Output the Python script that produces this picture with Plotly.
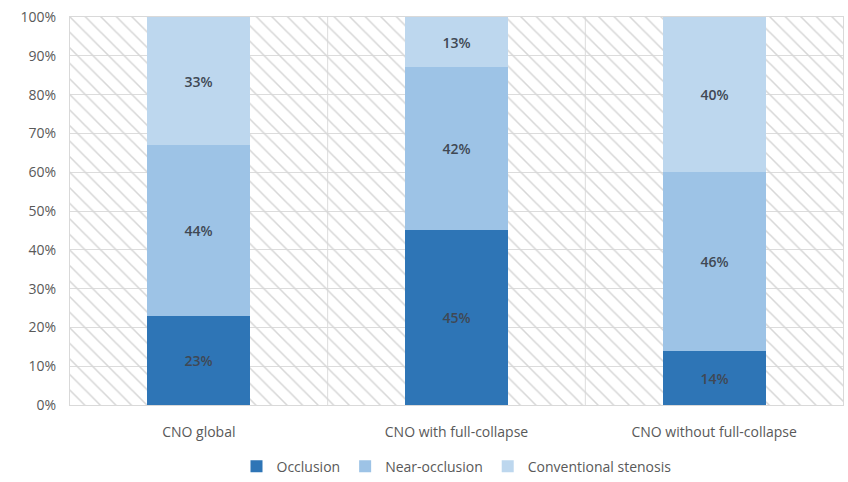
import plotly.graph_objects as go

categories = ["CNO global", "CNO with full-collapse", "CNO without full-collapse"]
occlusion = [23, 45, 14]
near_occlusion = [44, 42, 46]
conventional = [33, 13, 40]
series_names = ["Occlusion", "Near-occlusion", "Conventional stenosis"]
colors = ["#2E75B6", "#9DC3E6", "#BDD7EE"]
ytick_vals = list(range(0, 101, 10))
ytick_text = [f"{v}%" for v in ytick_vals]

fig = go.Figure()

# hatched background on base axes
fig.add_trace(go.Bar(
    x=categories, y=[100] * len(categories), width=1,
    marker=dict(color="rgba(0,0,0,0)", line=dict(width=0),
                pattern=dict(shape="\\", fgcolor="#d6d6d6", size=11, solidity=0.14, fillmode="replace")),
    showlegend=False, hoverinfo="skip", xaxis="x", yaxis="y",
))

for name, vals, col in zip(series_names, [occlusion, near_occlusion, conventional], colors):
    fig.add_trace(go.Bar(
        x=categories, y=vals, name=name, width=0.4,
        marker=dict(color=col, line=dict(width=0)),
        texttemplate="%{y}%", textposition="inside", insidetextanchor="middle",
        textfont=dict(color="#404854", size=14, family="Open Sans", weight=600),
        xaxis="x2", yaxis="y2",
    ))

shapes = []
for xb in [0.5, 1.5]:
    shapes.append(dict(type="line", xref="x", yref="y", x0=xb, x1=xb, y0=0, y1=100,
                       line=dict(color="#dcdcdc", width=1), layer="below"))

fig.update_layout(
    width=848, height=482,
    margin=dict(l=70, r=5, t=17, b=77, autoexpand=False),
    paper_bgcolor="white", plot_bgcolor="white",
    barmode="stack", bargap=0,
    font=dict(family="Open Sans", color="#595959", size=14),
    xaxis=dict(range=[-0.5, 2.5], showgrid=False, showline=True, mirror=True, linecolor="#d9d9d9",
               ticks="", tickfont=dict(size=14, color="#595959"), categoryorder="array",
               categoryarray=categories, ticklabelstandoff=14, automargin=False),
    yaxis=dict(range=[0, 100], tickvals=ytick_vals, ticktext=ytick_text, showgrid=True,
               gridcolor="#dcdcdc", showline=True, mirror=True, linecolor="#d9d9d9",
               zeroline=False, ticks="", tickfont=dict(size=14, color="#595959"),
               ticklabelstandoff=10, automargin=False),
    xaxis2=dict(overlaying="x", range=[-0.5, 2.5], visible=False, categoryorder="array",
                categoryarray=categories),
    yaxis2=dict(overlaying="y", range=[0, 100], visible=False),
    legend=dict(orientation="h", x=0.5, xanchor="center", yref="container", y=0.032,
                yanchor="middle", font=dict(size=14, color="#595959"), traceorder="normal"),
    shapes=shapes,
)

fig.write_html("out.html")
